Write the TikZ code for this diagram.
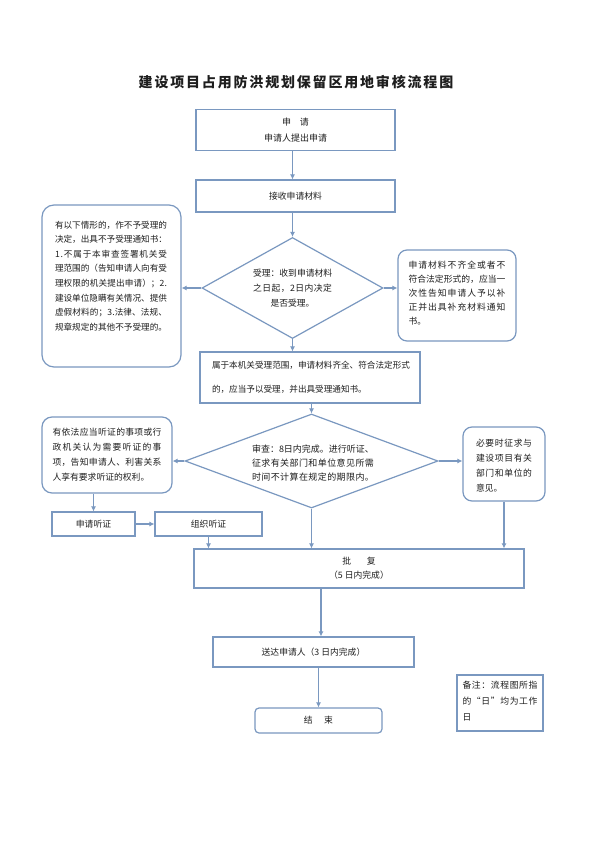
\documentclass[tikz,border=0pt]{standalone}
\usepackage{fontspec}
\setmainfont{Noto Sans CJK SC}
\usetikzlibrary{shapes.geometric,arrows.meta}
\definecolor{lb}{HTML}{7A98C0}
\definecolor{tx}{HTML}{1E1E1E}
\makeatletter
\newcommand\jline[2]{\hbox to #1{\@tfor\jlchar:=#2\do{\jlchar\hfil}\unskip}}
\makeatother
\begin{document}
\begin{tikzpicture}[x=1pt,y=-1pt,
  every node/.style={text=tx, font=\fontsize{8.8}{15}\selectfont},
  bx/.style={draw=lb, line width=1.2pt, inner sep=0pt, align=center},
  rbx/.style={bx, rounded corners=10pt},
  dm/.style={draw=lb, line width=1.2pt, diamond, inner sep=0pt},
  txt/.style={inner sep=0pt, align=left},
  arr/.style={draw=lb, line width=1.2pt, -{Latex[length=5pt,width=5pt]}}]
\fill[white] (0,0) rectangle (590,843);
\path[use as bounding box] (0,0) rectangle (590,843);

\node[font=\fontsize{14}{16}\selectfont\bfseries\addfontfeature{LetterSpace=13}] (title) at (296,82) {建设项目占用防洪规划保留区用地审核流程图};

\node[bx, minimum width=199pt, minimum height=41pt, font=\fontsize{9}{16}\selectfont] (b1) at (295.5,130) {申\hspace{1em}请\\申请人提出申请};
\node[bx, minimum width=199pt, minimum height=32pt] (b2) at (295.5,196) {接收申请材料};

\node[dm, minimum width=181pt, minimum height=101pt] (d1) at (292.5,288) {};
\node[inner sep=0pt, align=center] (d1t) at (292.5,288) {\jline{79pt}{受理：收到申请材料}\\\jline{79pt}{之日起，2日内决定}\\是否受理。};

\node[rbx, rounded corners=12pt, minimum width=139pt, minimum height=162pt] (lb1) at (111.5,286) {};
\node[txt, font=\fontsize{8.6}{14.6}\selectfont] (lb1t) at (111,276) {\jline{112pt}{有以下情形的，作不予受理的}\\\jline{112pt}{决定，出具不予受理通知书：}\\\jline{112pt}{1.不属于本审查签署机关受}\\\jline{112pt}{理范围的（告知申请人向有受}\\\jline{112pt}{理权限的机关提出申请）；2.}\\\jline{112pt}{建设单位隐瞒有关情况、提供}\\\jline{112pt}{虚假材料的；3.法律、法规、}\\\jline{112pt}{规章规定的其他不予受理的。}};

\node[rbx, rounded corners=9pt, minimum width=118pt, minimum height=91pt] (rb1) at (457,295.5) {};
\node[txt, font=\fontsize{8.8}{14}\selectfont] (rb1t) at (457,293) {\jline{97pt}{申请材料不齐全或者不}\\\jline{97pt}{符合法定形式的，应当一}\\\jline{97pt}{次性告知申请人予以补}\\\jline{97pt}{正并出具补充材料通知}\\书。};

\node[bx, minimum width=220pt, minimum height=51pt] (b3) at (310,377.5) {};
\node[txt, font=\fontsize{8.6}{24}\selectfont] (b3t) at (311,377) {\jline{198pt}{属于本机关受理范围，申请材料齐全、符合法定形式}\\的，应当予以受理，并出具受理通知书。};

\node[dm, minimum width=253pt, minimum height=94pt] (d2) at (311.5,461) {};
\node[txt, font=\fontsize{9}{14}\selectfont] (d2t) at (313,463) {\jline{122pt}{审查：8日内完成。进行听证、}\\\jline{122pt}{征求有关部门和单位意见所需}\\\jline{122pt}{时间不计算在规定的期限内。}};

\node[rbx, minimum width=130pt, minimum height=76pt] (lb2) at (107,455) {};
\node[txt] (lb2t) at (107,454.5) {\jline{109pt}{有依法应当听证的事项或行}\\\jline{109pt}{政机关认为需要听证的事}\\\jline{109pt}{项，告知申请人、利害关系}\\人享有要求听证的权利。};

\node[rbx, rounded corners=9pt, minimum width=82pt, minimum height=74pt] (rb2) at (504,464) {};
\node[txt] (rb2t) at (504,465.5) {\jline{56pt}{必要时征求与}\\\jline{56pt}{建设项目有关}\\\jline{56pt}{部门和单位的}\\意见。};

\node[bx, minimum width=83pt, minimum height=24pt] (sq) at (93.5,524) {申请听证};
\node[bx, minimum width=107pt, minimum height=24pt] (zz) at (208.5,524) {组织听证};

\node[bx, minimum width=330pt, minimum height=39pt, font=\fontsize{8.8}{14}\selectfont] (pf) at (359,568.5) {批\hspace{1.8em}复\\（5 日内完成）};
\node[bx, minimum width=201pt, minimum height=30pt] (sd) at (313.5,652) {送达申请人（3 日内完成）};
\node[bx, rounded corners=4pt, minimum width=127pt, minimum height=25pt] (js) at (318.5,720.5) {结\hspace{1.3em}束};

\node[bx, minimum width=86pt, minimum height=56pt] (nt) at (500,703) {};
\node[txt, font=\fontsize{8.8}{16}\selectfont] (ntt) at (500,701) {\jline{75pt}{备注：流程图所指}\\\jline{75pt}{的“日”均为工作}\\日};

\coordinate (c1) at (321,0);
\draw[arr] (b1.south -| d1.north) -- (b2.north -| d1.north);
\draw[arr] (b2.south -| d1.north) -- (d1.north);
\draw[arr] (d1.south) -- (d1.south |- b3.north);
\draw[arr] (d1.west) -- (d1.west -| lb1.east);
\draw[arr] (d1.east) -- (d1.east -| rb1.west);
\draw[arr] (b3.south -| d2.north) -- (d2.north);
\draw[arr] (d2.west) -- (d2.west -| lb2.east);
\draw[arr] (d2.east) -- (d2.east -| rb2.west);
\draw[arr] (lb2.south -| sq.north) -- (sq.north);
\draw[arr] (sq.east) -- (zz.west);
\draw[arr] (zz.south) -- (zz.south |- pf.north);
\draw[arr] (d2.south) -- (d2.south |- pf.north);
\draw[arr] (rb2.south) -- (rb2.south |- pf.north);
\draw[arr] (pf.south -| c1) -- (sd.north -| c1);
\draw[arr] (sd.south -| js.north) -- (js.north);
\end{tikzpicture}
\end{document}
